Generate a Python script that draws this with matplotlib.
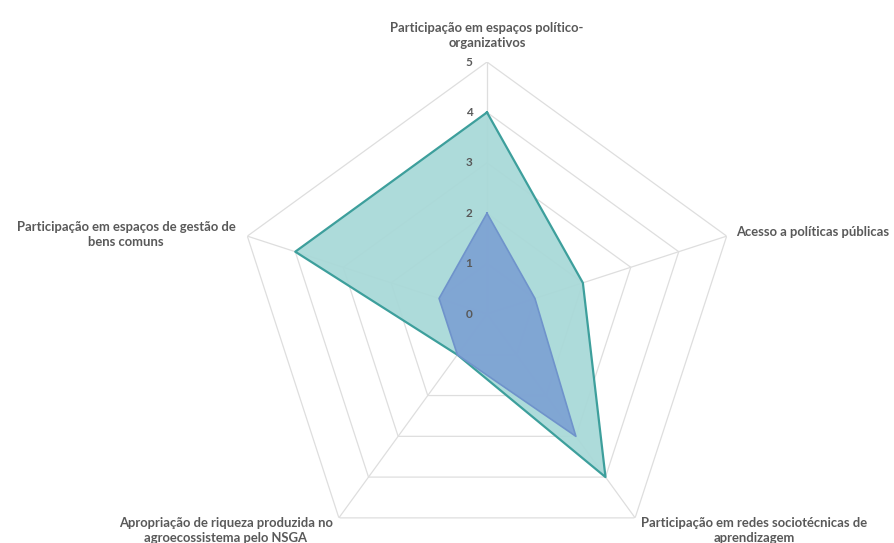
import numpy as np
import matplotlib
matplotlib.use("Agg")
import matplotlib.pyplot as plt
from matplotlib.transforms import offset_copy

categories = [
    "Participação em espaços político-\norganizativos",
    "Acesso a políticas públicas",
    "Participação em redes sociotécnicas de\naprendizagem",
    "Apropriação de riqueza produzida no\nagroecossistema pelo NSGA",
    "Participação em espaços de gestão de\nbens comuns",
]
series_a = [4, 2, 4, 1, 4]   # teal
series_b = [2, 1, 3, 1, 1]   # blue
tick_values = [0, 1, 2, 3, 4, 5]

plt.rcParams['font.family'] = ['Lato', 'DejaVu Sans']

fig = plt.figure(figsize=(8.95, 5.43), dpi=100)
W, H = 895, 543
cx, cy, R = 487, 314, 252
ax = fig.add_axes([(cx - R) / W, (H - cy - R) / H, 2 * R / W, 2 * R / H], projection='polar')
ax.set_theta_offset(np.pi / 2)
ax.set_theta_direction(-1)
ax.set_ylim(0, 5)
ax.set_axis_off()

n = len(categories)
angles = np.linspace(0, 2 * np.pi, n, endpoint=False)
closed = np.concatenate([angles, angles[:1]])

grid_c = '#dedede'
for t in tick_values[1:]:
    ax.plot(closed, [t] * (n + 1), color=grid_c, lw=0.9, zorder=1)
for a in angles:
    ax.plot([a, a], [0, tick_values[-1]], color=grid_c, lw=0.9, zorder=1)

va_ = np.array(series_a + series_a[:1], dtype=float)
vb_ = np.array(series_b + series_b[:1], dtype=float)
ax.fill(closed, va_, color='#a9d9d8', alpha=0.95, zorder=2, lw=0)
ax.plot(closed, va_, color='#3d9f9c', lw=1.6, zorder=3)
ax.fill(closed, vb_, color='#7ea3d3', alpha=0.95, zorder=4, lw=0)
ax.plot(closed, vb_, color='#6f93cb', lw=1.2, zorder=5)

# radial tick labels
tr = offset_copy(ax.transData, fig=fig, x=-18, y=0, units='dots')
for t in tick_values:
    ax.text(0, t, str(t), transform=tr, ha='center', va='center', fontsize=8.5,
            fontweight='bold', color='#595959', zorder=6)

lab_c = '#595959'
fs = 9.4
# positions relative to outer vertices (offsets in pixels)
specs = [
    (0, 13, 'center', 'bottom'),
    (9, 4, 'left', 'center'),
    (6, -13, 'left', 'center'),
    (-6, -13, 'right', 'center'),
    (-12, 2, 'right', 'center'),
]
for a, lab, (dx, dy, ha, va) in zip(angles, categories, specs):
    trl = offset_copy(ax.transData, fig=fig, x=dx, y=dy, units='dots')
    ax.text(a, 5, lab, transform=trl, ha=ha, va=va, multialignment='center',
            fontsize=fs, fontweight='bold', color=lab_c, clip_on=False,
            linespacing=1.3)

fig.savefig('out.png', dpi=100, facecolor='white')
